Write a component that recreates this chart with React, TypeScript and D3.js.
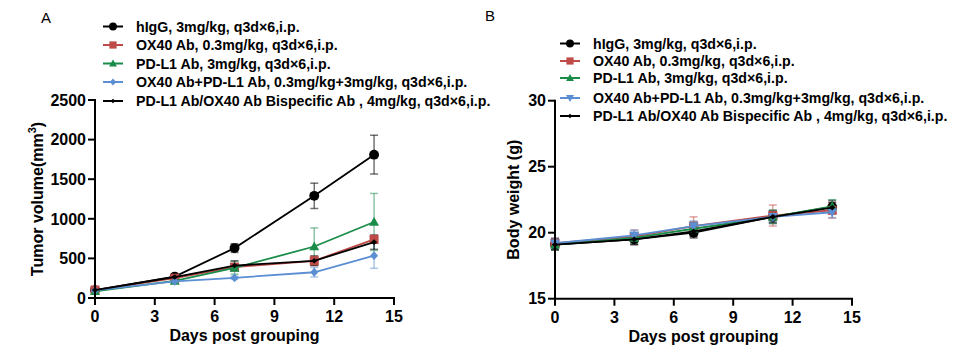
import React from "react";
import * as d3 from "d3";

const days = [0, 4, 7, 11, 14];
const seriesNames = [
  "hIgG, 3mg/kg, q3d\u00d76,i.p.",
  "OX40 Ab, 0.3mg/kg, q3d\u00d76,i.p.",
  "PD-L1 Ab, 3mg/kg, q3d\u00d76,i.p.",
  "OX40 Ab+PD-L1 Ab, 0.3mg/kg+3mg/kg, q3d\u00d76,i.p.",
  "PD-L1 Ab/OX40 Ab Bispecific Ab , 4mg/kg, q3d\u00d76,i.p.",
];
const colors = ["#000000", "#be4b48", "#1a8c4a", "#5b8ed2", "#000000"];

// Tumor volume (mm3)
const tvHigG = [100, 270, 630, 1290, 1810];
const tvHigGErr = [10, 20, 55, 160, 245];
const tvOX40 = [100, 250, 390, 470, 740];
const tvOX40Err = [12, 20, 40, 60, 50];
const tvPDL1 = [85, 215, 380, 650, 960];
const tvPDL1Err = [10, 20, 80, 235, 360];
const tvCombo = [95, 210, 255, 325, 535];
const tvComboErr = [10, 15, 20, 60, 160];
const tvBispec = [100, 265, 410, 470, 705];
const tvBispecErr = [10, 20, 60, 60, 90];

// Body weight (g)
const bwHigG = [19.1, 19.5, 20.0, 21.2, 21.95];
const bwHigGErr = [0.4, 0.4, 0.4, 0.5, 0.5];
const bwOX40 = [19.2, 19.7, 20.5, 21.3, 21.7];
const bwOX40Err = [0.4, 0.5, 0.7, 0.8, 0.6];
const bwPDL1 = [19.1, 19.6, 20.3, 21.2, 22.0];
const bwPDL1Err = [0.4, 0.4, 0.5, 0.5, 0.5];
const bwCombo = [19.2, 19.8, 20.5, 21.2, 21.55];
const bwComboErr = [0.4, 0.4, 0.4, 0.4, 0.4];
const bwBispec = [19.1, 19.5, 20.1, 21.2, 21.9];
const bwBispecErr = [0.4, 0.4, 0.4, 0.4, 0.4];

const xTicks = [0, 3, 6, 9, 12, 15];
const tvTicks = [0, 500, 1000, 1500, 2000, 2500];
const bwTicks = [15, 20, 25, 30];

const FONT = "'Liberation Sans', Arial, sans-serif";

type Series = { vals: number[]; errs: number[] };

function Marker({ kind, x, y, color, s }: { kind: string; x: number; y: number; color: string; s: number }) {
  if (kind === "circle") return <circle cx={x} cy={y} r={s * 0.55} fill={color} />;
  if (kind === "square")
    return <rect x={x - s * 0.5} y={y - s * 0.5} width={s} height={s} fill={color} />;
  if (kind === "triangle") {
    const h = s * 0.95;
    return <path d={`M${x},${y - h * 0.6}L${x + s * 0.55},${y + h * 0.45}L${x - s * 0.55},${y + h * 0.45}Z`} fill={color} />;
  }
  if (kind === "triangleDown") {
    const h = s * 0.95;
    return <path d={`M${x},${y + h * 0.6}L${x + s * 0.55},${y - h * 0.45}L${x - s * 0.55},${y - h * 0.45}Z`} fill={color} />;
  }
  if (kind === "diamond")
    return <path d={`M${x},${y - s * 0.55}L${x + s * 0.5},${y}L${x},${y + s * 0.55}L${x - s * 0.5},${y}Z`} fill={color} />;
  if (kind === "smallDiamond")
    return <path d={`M${x},${y - s * 0.4}L${x + s * 0.45},${y}L${x},${y + s * 0.4}L${x - s * 0.45},${y}Z`} fill={color} />;
  return null;
}

function Panel({
  letter, letterX, letterY, x0, x1, yDomain, yRange, yTicks, series, markers, sizes,
  yTitle, legendX, legendYs, titleX,
}: any) {
  const xs = d3.scaleLinear().domain([0, 15]).range([x0, x1]);
  const ys = d3.scaleLinear().domain(yDomain).range(yRange);
  const line = d3.line<number>().x((_, i) => xs(days[i])).y((v) => ys(v));
  const yBottom = yRange[0];
  const yTop = yRange[1];
  return (
    <g>
      <text x={letterX} y={letterY} fontFamily={FONT} fontSize={15} fill="#000">{letter}</text>
      {/* error bars */}
      {series.map((s: Series, k: number) => (
        <g key={"e" + k} stroke={colors[k]} strokeOpacity={k === 0 || k === 4 ? 0.55 : 0.5} strokeWidth={1.5} fill="none">
          {s.vals.map((v, i) => {
            const x = xs(days[i]);
            const yh = ys(v + s.errs[i]);
            const yl = ys(v - s.errs[i]);
            return (
              <g key={i}>
                <line x1={x} x2={x} y1={yh} y2={yl} />
                <line x1={x - 4} x2={x + 4} y1={yh} y2={yh} />
                <line x1={x - 4} x2={x + 4} y1={yl} y2={yl} />
              </g>
            );
          })}
        </g>
      ))}
      {/* lines and markers */}
      {series.map((s: Series, k: number) => (
        <g key={"l" + k}>
          <path d={line(s.vals) || ""} fill="none" stroke={colors[k]} strokeWidth={1.8} />
          {s.vals.map((v, i) => (
            <Marker key={i} kind={markers[k]} x={xs(days[i])} y={ys(v)} color={colors[k]} s={sizes[k]} />
          ))}
        </g>
      ))}
      {/* axes */}
      <line x1={x0} x2={x1 + 1} y1={yBottom} y2={yBottom} stroke="#000" strokeWidth={2} />
      <line x1={x0} x2={x0} y1={yTop - 1} y2={yBottom + 1} stroke="#000" strokeWidth={2} />
      {xTicks.map((t) => (
        <g key={"xt" + t}>
          <line x1={xs(t)} x2={xs(t)} y1={yBottom} y2={yBottom + 7} stroke="#000" strokeWidth={2} />
          <text x={xs(t)} y={yBottom + 24} textAnchor="middle" fontFamily={FONT} fontWeight="bold" fontSize={16}>{t}</text>
        </g>
      ))}
      {yTicks.map((t: number) => (
        <g key={"yt" + t}>
          <line x1={x0 - 7} x2={x0} y1={ys(t)} y2={ys(t)} stroke="#000" strokeWidth={2} />
          <text x={x0 - 9} y={ys(t)} dy="0.36em" textAnchor="end" fontFamily={FONT} fontWeight="bold" fontSize={16}>{t}</text>
        </g>
      ))}
      <text x={(x0 + x1) / 2} y={yBottom + 43} textAnchor="middle" fontFamily={FONT} fontWeight="bold" fontSize={16}>Days post grouping</text>
      <g transform={`translate(${titleX},${(yTop + yBottom) / 2}) rotate(-90)`}>
        {yTitle}
      </g>
      {/* legend */}
      {seriesNames.map((n, k) => (
        <g key={"lg" + k}>
          <line x1={legendX} x2={legendX + 20} y1={legendYs[k]} y2={legendYs[k]} stroke={colors[k]} strokeWidth={2} />
          <Marker kind={markers[k]} x={legendX + 10} y={legendYs[k]} color={colors[k]} s={sizes[k] * 0.8} />
          <text x={legendX + 33} y={legendYs[k]} dy="0.36em" fontFamily={FONT} fontWeight="bold" fontSize={14.2}>{n}</text>
        </g>
      ))}
    </g>
  );
}

export default function App() {
  const tvSeries = [
    { vals: tvHigG, errs: tvHigGErr },
    { vals: tvOX40, errs: tvOX40Err },
    { vals: tvPDL1, errs: tvPDL1Err },
    { vals: tvCombo, errs: tvComboErr },
    { vals: tvBispec, errs: tvBispecErr },
  ];
  const bwSeries = [
    { vals: bwHigG, errs: bwHigGErr },
    { vals: bwOX40, errs: bwOX40Err },
    { vals: bwPDL1, errs: bwPDL1Err },
    { vals: bwCombo, errs: bwComboErr },
    { vals: bwBispec, errs: bwBispecErr },
  ];
  return (
    <svg width={956} height={359} style={{ position: "absolute", left: 0, top: 0, background: "#fff" }}>
      <Panel
        letter="A" letterX={41} letterY={23}
        x0={95} x1={394} yDomain={[0, 2500]} yRange={[298, 100]} yTicks={tvTicks}
        series={tvSeries}
        markers={["circle", "square", "triangle", "diamond", "smallDiamond"]}
        sizes={[9, 9, 9, 8, 7]}
        titleX={43}
        yTitle={
          <text textAnchor="middle" fontFamily={FONT} fontWeight="bold" fontSize={16}>
            Tumor volume(mm<tspan dy={-7} fontSize={11}>3</tspan><tspan dy={7}>)</tspan>
          </text>
        }
        legendX={103} legendYs={[26.5, 45, 63.5, 82, 101]}
      />
      <Panel
        letter="B" letterX={485} letterY={21}
        x0={555} x1={852} yDomain={[15, 30]} yRange={[298.7, 100.7]} yTicks={bwTicks}
        series={bwSeries}
        markers={["circle", "square", "triangle", "triangleDown", "smallDiamond"]}
        sizes={[9, 9, 9, 9, 7]}
        titleX={519}
        yTitle={
          <text textAnchor="middle" fontFamily={FONT} fontWeight="bold" fontSize={16}>Body weight (g)</text>
        }
        legendX={560} legendYs={[43.5, 61, 78, 98, 116]}
      />
    </svg>
  );
}
